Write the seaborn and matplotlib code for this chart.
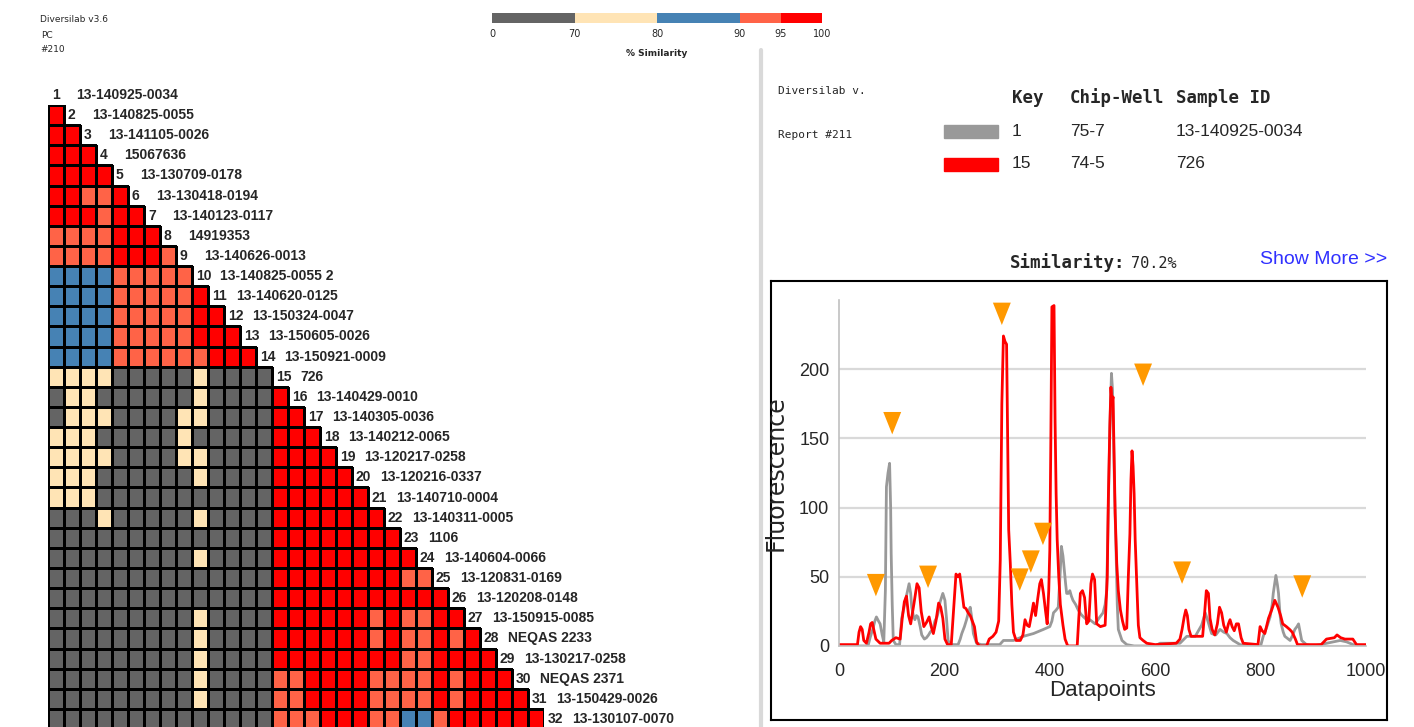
import numpy as np
import matplotlib
matplotlib.use('Agg')
import matplotlib.pyplot as plt
import matplotlib.transforms as mtransforms
from matplotlib.colors import ListedColormap, BoundaryNorm
from matplotlib.patches import Rectangle
from matplotlib.lines import Line2D
from matplotlib.ticker import MultipleLocator
import seaborn as sns

# --- data -------------------------------------------------------------

# sample labels of the similarity matrix (row 1 .. 32)
sample_ids = ['13-140925-0034', '13-140825-0055', '13-141105-0026', '15067636',
              '13-130709-0178', '13-130418-0194', '13-140123-0117', '14919353',
              '13-140626-0013', '13-140825-0055 2', '13-140620-0125', '13-150324-0047',
              '13-150605-0026', '13-150921-0009', '726', '13-140429-0010',
              '13-140305-0036', '13-140212-0065', '13-120217-0258', '13-120216-0337',
              '13-140710-0004', '13-140311-0005', '1106', '13-140604-0066',
              '13-120831-0169', '13-120208-0148', '13-150915-0085', 'NEQAS 2233',
              '13-130217-0258', 'NEQAS 2371', '13-150429-0026', '13-130107-0070']

# similarity band of each cell, rows 2..32 (G <70, B 70-80, U 80-90, S 90-95, R 95-100)
matrix_rows = [
    'R', 'RR', 'RRR', 'RRRR', 'RRSSR', 'RRRSRR', 'SSSSRRR', 'SSSSRRRS',
    'UUUUSSSSS', 'UUUUSSSSSR', 'UUUUSSSSSRR', 'UUUUSSSSSRRR', 'UUUUSSSSSSRRR',
    'BBBBGGGGGBGGGG',
    'GBBGGGGGGBGGGGR',
    'GBBBGGGGBBGGGGRR',
    'BBBGGGGGBGGGGGRRR',
    'BBBBGGGGBBGGGGRRRR',
    'BBBGGGGGGBGGGGRRRRR',
    'BBBGGGGGGGGGGGRRRRRR',
    'GGGBGGGGGBGGGGRRRRRRR',
    'GGGGGGGGGGGGGGRRRRRRRR',
    'GGGGGGGGGBGGGGRRRRRRRRR',
    'GGGGGGGGGGGGGGRRRRRRRRSS',
    'GGGGGGGGGGGGGGRRRRRRRRRRR',
    'GGGGGGGGGBGGGGRRRRRRSRSSRR',
    'GGGGGGGGGBGGGGRRRRRRSRSSRSR',
    'GGGGGGGGGBGGGGRRRRRRRRSSRRRR',
    'GGGGGGGGGBGGGGSSRRRRSSSSRSRRR',
    'GGGGGGGGGBGGGGSSRRRRSSSSRSRRRR',
    'GGGGGGGGGGGGGGSSSRRRSSUUSRRRRRR',
]
band_value = {'G': 60, 'B': 75, 'U': 85, 'S': 92.5, 'R': 97.5}
band_edges = [0, 70, 80, 90, 95, 100]
band_colors = ['#646464', '#ffe4b5', '#4682b4', '#ff6347', '#ff0000']

# key of the overlay
key_ids = ['1', '15']
key_wells = ['75-7', '74-5']
key_samples = ['13-140925-0034', '726']
key_colors = ['#999999', '#ff0000']
similarity = '70.2%'

# fingerprint traces (datapoint, fluorescence)
gray_x = [0, 55, 59, 64, 68, 71, 75, 78, 82, 85, 88, 90, 93, 96, 98, 99, 101, 103, 108, 115,
          119, 125, 129, 133, 136, 138, 141, 144, 147, 150, 154, 157, 162, 166, 170, 173, 178,
          182, 186, 188, 192, 197, 201, 204, 207, 212, 226, 230, 233, 238, 242, 246, 249, 252,
          255, 261, 270, 305, 312, 331, 350, 369, 388, 400, 404, 407, 412, 416, 420, 422, 425,
          427, 430, 432, 435, 438, 441, 444, 449, 454, 459, 464, 470, 476, 486, 495, 501, 505,
          508, 511, 514, 517, 519, 520, 523, 526, 528, 530, 537, 546, 560, 600, 609, 622, 647,
          660, 676, 688, 695, 700, 707, 715, 723, 730, 736, 742, 748, 761, 775, 800, 805, 812,
          818, 822, 824, 827, 829, 832, 834, 837, 839, 843, 846, 856, 861, 865, 869, 872, 875,
          878, 887, 900, 938, 951, 963, 982, 1000]
gray_y = [0, 0, 6, 12, 18, 21, 18, 16, 8, 3, 40, 115, 125, 132, 100, 67, 30, 4, 1, 1,
          20, 31, 38, 45, 38, 28, 22, 19, 22, 21, 14, 8, 5, 6, 8, 10, 12,
          18, 21, 24, 32, 38, 33, 20, 4, 1, 1, 5, 9, 14, 19, 25, 28, 20,
          9, 2, 1, 1, 4, 4, 7, 9, 12, 14, 18, 24, 26, 28, 55, 72, 65,
          57, 45, 38, 38, 40, 36, 33, 30, 26, 23, 21, 19, 19, 16, 21, 24, 30,
          40, 100, 158, 197, 185, 168, 110, 64, 30, 12, 4, 1, 0, 0, 2, 2, 2,
          7, 7, 15, 24, 18, 9, 8, 12, 10, 9, 6, 4, 1, 0, 0, 7, 14,
          21, 30, 38, 46, 51, 44, 38, 22, 16, 10, 7, 4, 8, 12, 14, 16, 10,
          4, 1, 0, 3, 4, 3, 0, 0]

red_x = [0, 35, 38, 41, 44, 47, 52, 57, 60, 63, 66, 70, 78, 95, 100, 108, 116, 120, 124, 128,
         132, 136, 142, 148, 152, 156, 161, 166, 171, 175, 179, 184, 189, 193, 197, 201, 206,
         213, 218, 222, 226, 229, 233, 237, 241, 245, 249, 253, 257, 261, 266, 280, 285, 292,
         298, 303, 306, 309, 312, 315, 318, 320, 322, 325, 328, 331, 336, 344, 349, 353, 357,
         361, 365, 369, 373, 377, 381, 384, 388, 392, 395, 398, 400, 402, 404, 408, 410, 412,
         414, 417, 420, 425, 429, 434, 452, 455, 458, 462, 466, 470, 474, 478, 481, 485, 489,
         496, 505, 509, 511, 514, 516, 518, 520, 522, 524, 527, 530, 534, 538, 542, 546, 549,
         552, 554, 556, 558, 560, 562, 564, 566, 568, 571, 577, 584, 600, 640, 647, 651, 655,
         658, 661, 664, 668, 690, 694, 697, 701, 704, 708, 713, 718, 722, 726, 730, 735, 739,
         742, 746, 750, 754, 758, 763, 767, 795, 799, 803, 808, 815, 821, 827, 833, 838, 842,
         849, 855, 860, 866, 870, 915, 925, 940, 945, 952, 960, 975, 982, 1000]
red_y = [1, 1, 10, 14, 12, 4, 2, 10, 16, 17, 12, 5, 2, 2, 4, 6, 5, 20, 32, 36,
         22, 16, 30, 45, 42, 25, 14, 17, 21, 14, 9, 18, 31, 28, 20, 5, 1,
         1, 30, 52, 50, 52, 40, 28, 27, 24, 22, 18, 14, 3, 0, 0, 5, 7,
         10, 18, 62, 175, 224, 220, 218, 150, 84, 60, 30, 10, 4, 4, 8, 19, 15,
         14, 22, 31, 22, 34, 45, 48, 38, 25, 16, 40, 69, 150, 245, 246, 163, 110,
         77, 50, 30, 15, 5, 0, 0, 20, 38, 40, 35, 16, 18, 45, 52, 48, 16,
         14, 15, 50, 105, 160, 187, 175, 180, 140, 96, 60, 40, 26, 18, 12, 13, 50,
         81, 120, 141, 130, 110, 77, 55, 35, 15, 6, 4, 2, 1, 2, 5, 12, 21,
         26, 22, 12, 7, 7, 25, 40, 38, 20, 12, 8, 16, 28, 24, 15, 10, 16,
         19, 14, 11, 16, 16, 6, 2, 1, 14, 11, 9, 20, 26, 33, 28, 22, 16,
         14, 12, 10, 5, 1, 1, 5, 6, 8, 6, 5, 5, 1, 1]

# peak markers
peak_x = [70, 101, 169, 309, 343, 364, 387, 577, 651, 879]
peak_y = [44, 161, 50, 240, 48, 61, 81, 196, 53, 43]

# --- figure -----------------------------------------------------------

sns.set_style('white')
plt.rcParams['font.family'] = ['Liberation Sans', 'DejaVu Sans']
MONO = ['DejaVu Sans Mono']

W, H = 1414, 727
fig = plt.figure(figsize=(W / 100, H / 100), dpi=100)


def fx(px):
    return px / W


def fy(py):
    return 1 - py / H


# similarity matrix (lower triangle)
n = len(sample_ids)
mat = np.full((n - 1, n - 1), np.nan)
for i, row in enumerate(matrix_rows):
    for j, code in enumerate(row):
        mat[i, j] = band_value[code]

row_h = 20.13
ax_m = fig.add_axes([fx(48), fy(105 + (n - 1) * row_h), 496 / W, (n - 1) * row_h / H])
cmap = ListedColormap(band_colors)
norm = BoundaryNorm(band_edges, cmap.N)
sns.heatmap(mat, ax=ax_m, cmap=cmap, norm=norm, cbar=False, linewidths=1.0,
            linecolor='black', xticklabels=False, yticklabels=False)
# no borders for the empty upper triangle
valid = ~np.isnan(mat)
ec = np.zeros((valid.size, 4))
ec[valid.ravel(), 3] = 1
ax_m.collections[0].set_edgecolor(ec)

for k, sid in enumerate(sample_ids):
    num_tr = mtransforms.offset_copy(ax_m.transData, fig=fig, x=4, y=0, units='dots')
    id_tr = mtransforms.offset_copy(ax_m.transData, fig=fig, x=28, y=0, units='dots')
    ax_m.text(k, k - 0.5, str(k + 1), transform=num_tr, va='center', ha='left',
              fontsize=10, fontweight='bold', clip_on=False)
    ax_m.text(k, k - 0.5, sid, transform=id_tr, va='center', ha='left',
              fontsize=10, fontweight='bold', clip_on=False)

# header of the matrix
fig.text(fx(40), fy(20), 'Diversilab v3.6', fontsize=6.5, family='DejaVu Sans', va='center')
fig.text(fx(41), fy(35), 'PC', fontsize=6.5, family='DejaVu Sans', va='center')
fig.text(fx(40), fy(50), '#210', fontsize=6.5, family='DejaVu Sans', va='center')

# colour scale (bands drawn with unequal widths like the original)
ax_c = fig.add_axes([fx(492), fy(23), 330 / W, 10 / H])
seg_left = [0, 1, 2, 3, 3.5]
seg_width = [1, 1, 1, 0.5, 0.5]
ax_c.barh(0, seg_width, left=seg_left, height=1, color=band_colors, linewidth=0)
ax_c.set_xlim(0, 4)
ax_c.set_ylim(-0.5, 0.5)
ax_c.set_yticks([])
ax_c.set_xticks([0, 1, 2, 3, 3.5, 4])
ax_c.set_xticklabels([str(e) for e in band_edges], fontsize=7, family='DejaVu Sans')
ax_c.tick_params(length=0, pad=4)
for s in ax_c.spines.values():
    s.set_visible(False)
fig.text(fx(657), fy(54), '% Similarity', fontsize=6.5, fontweight='bold',
         family='DejaVu Sans', ha='center', va='center')

# divider between the panels
fig.add_artist(Line2D([fx(761), fx(761)], [fy(50), 0], color='#d9d9d9', lw=3,
                      transform=fig.transFigure))

# --- right panel: report header and key ------------------------------
fig.text(fx(778), fy(91), 'Diversilab v.', fontsize=8, family=MONO, va='center')
fig.text(fx(778), fy(135), 'Report #211', fontsize=8, family=MONO, va='center')

for txt, x in zip(['Key', 'Chip-Well', 'Sample ID'], [1012, 1070, 1176]):
    fig.text(fx(x), fy(98), txt, fontsize=12.5, fontweight='bold', family=MONO, va='center')

for i in range(len(key_ids)):
    y = 131 + i * 33
    fig.add_artist(Rectangle((fx(944), fy(y + 7)), 54 / W, 13 / H, color=key_colors[i],
                             transform=fig.transFigure))
    fig.text(fx(1012), fy(y), key_ids[i], fontsize=12.5, va='center')
    fig.text(fx(1070), fy(y), key_wells[i], fontsize=12.5, va='center')
    fig.text(fx(1176), fy(y), key_samples[i], fontsize=12.5, va='center')

fig.text(fx(1010), fy(263), 'Similarity:', fontsize=12.5, fontweight='bold', family=MONO, va='center')
fig.text(fx(1131), fy(264), similarity, fontsize=11, family=MONO, va='center')
fig.text(fx(1260), fy(259), 'Show More >>', fontsize=14, color='#3030ff', va='center')

# frame around the trace chart
ax_f = fig.add_axes([fx(771), fy(720), 616 / W, 439 / H])
ax_f.set_xticks([])
ax_f.set_yticks([])
for s in ax_f.spines.values():
    s.set_color('black')
    s.set_linewidth(1.5)

# trace chart
ax = fig.add_axes([fx(839), fy(646), 527 / W, 346 / H])
ax.patch.set_alpha(0)
sns.lineplot(x=gray_x, y=gray_y, ax=ax, color='#999999', lw=2, estimator=None, sort=False)
sns.lineplot(x=red_x, y=red_y, ax=ax, color='#ff0000', lw=2, estimator=None, sort=False)
tri = [(-0.8, 1), (0.8, 1), (0, -1)]
sns.scatterplot(x=peak_x, y=peak_y, ax=ax, marker=tri, s=260, color='#ff9900',
                edgecolor='none', linewidth=0, zorder=5, clip_on=False)

ax.set_xlim(0, 1000)
ax.set_ylim(0, 250)
ax.set_xticks([0, 200, 400, 600, 800, 1000])
ax.set_yticks([0, 50, 100, 150, 200])
ax.xaxis.set_minor_locator(MultipleLocator(100))
ax.yaxis.set_minor_locator(MultipleLocator(10))
ax.yaxis.grid(True, color='#d9d9d9', lw=1.6)
ax.set_axisbelow(True)
ax.tick_params(which='both', direction='in', color='#c0c0c0', width=1.2)
ax.tick_params(which='major', length=7)
ax.tick_params(which='minor', length=5)
ax.tick_params(axis='x', pad=12)
ax.tick_params(axis='y', pad=7)
for lbl in ax.get_xticklabels() + ax.get_yticklabels():
    lbl.set_fontsize(13)
for side in ['top', 'right']:
    ax.spines[side].set_visible(False)
for side in ['left', 'bottom']:
    ax.spines[side].set_color('#c0c0c0')
    ax.spines[side].set_linewidth(1.2)
ax.set_xlabel('Datapoints', fontsize=16, labelpad=0)
ax.set_ylabel('Fluorescence', fontsize=17, family='DejaVu Sans', labelpad=8)

fig.savefig('out.png', dpi=100)
